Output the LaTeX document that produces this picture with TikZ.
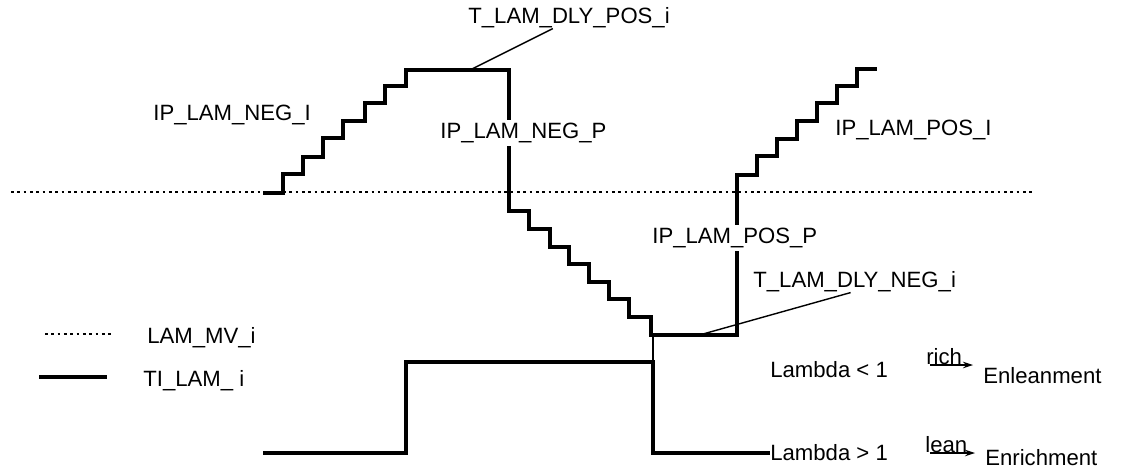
\documentclass[tikz,border=0pt]{standalone}
\usepackage{fontspec}
\setmainfont{Liberation Sans}
\usetikzlibrary{arrows.meta,calc}
\tikzset{
  senal/.style={
    line width=2.5pt,
    line join=miter
  },
  media/.style={
    line width=1.1pt,
    dash pattern=on 1.5pt off 2.1pt
  },
  guia/.style={
    line width=0.8pt
  },
  etiqueta/.style={
    anchor=west,
    inner sep=0pt,
    font=\fontsize{12.6}{15}\selectfont
  },
  tapa/.style={
    etiqueta,
    fill=white,
    inner ysep=1.5pt
  },
  flecha/.style={
    -{Stealth[length=2mm,width=1.3mm]},
    line width=0.6pt
  }
}

\begin{document}
\begin{tikzpicture}[x=0.02cm,y=-0.02cm]
\useasboundingbox (0,0) rectangle (1122,471);

% valor medio
\draw[media] (11,192) -- (1033,192);

% senal TI_LAM_i arriba
\draw[senal] (263,193) -| (283,174) -| (303,157) -| (323,138) -| (343,121)
  -| (365,103) -| (385,86) -| (406,70) -| (509,211) -| (529,229)
  -| (550,247) -| (569,264) -| (589,282) -| (609,299) -| (629,317)
  -| (651,335) -| (737,175) -| (757,156) -| (777,139) -| (797,121)
  -| (817,103) -| (837,86) -| (857,69) -- (877,69);

% etiquetas de la senal
\node[etiqueta] (negi) at (153,115) {IP\_LAM\_NEG\_I};
\node[tapa] (negp) at (440,133) {IP\_LAM\_NEG\_P};
\node[etiqueta] (posi) at (835,130) {IP\_LAM\_POS\_I};
\node[tapa] (posp) at (652,238) {IP\_LAM\_POS\_P};
\node[etiqueta] (dlypos) at (468,18) {T\_LAM\_DLY\_POS\_i};
\node[etiqueta] (dlyneg) at (753,282) {T\_LAM\_DLY\_NEG\_i};

\coordinate (arribapos) at (472,69);
\coordinate (abajoneg) at (703,334);
\draw[guia] (arribapos) -- ($(dlypos.south west)!0.42!(dlypos.south east)$);
\draw[guia] (abajoneg) -- ($(dlyneg.south west)!0.48!(dlyneg.south east)$);

% leyenda
\node[etiqueta] (mv) at (147,338) {LAM\_MV\_i};
\node[etiqueta] (ti) at (143,381) {TI\_LAM\_ i};
\draw[media] (45,334) -- (112,334);
\draw[senal] (39,377) -- (107,377);

% lambda
\node[etiqueta] (lmenor) at (770,370) {Lambda < 1};
\node[etiqueta] (lmayor) at (770,453) {Lambda > 1};
\node[etiqueta] (empobre) at (983,376) {Enleanment};
\node[etiqueta] (enriq) at (985,458) {Enrichment};

% senal de lambda abajo
\coordinate (corte) at (653,335);
\coordinate (salto) at (653,362);
\draw[guia] (corte) -- (salto);
\draw[senal] (263,453) -| (406,362) -- (salto) -- (653,453) -- (lmayor.west);

% flechas rich / lean
\coordinate (rich1) at (930,365);
\coordinate (rich2) at (973,365);
\coordinate (lean1) at (930,453);
\coordinate (lean2) at (975,453);
\draw[flecha] (rich1) -- (rich2);
\draw[flecha] (lean1) -- (lean2);
\node[etiqueta, anchor=base west] (rico) at (926,364) {rich};
\node[etiqueta, anchor=base west] (pobre) at (925,452) {lean};
\end{tikzpicture}
\end{document}
